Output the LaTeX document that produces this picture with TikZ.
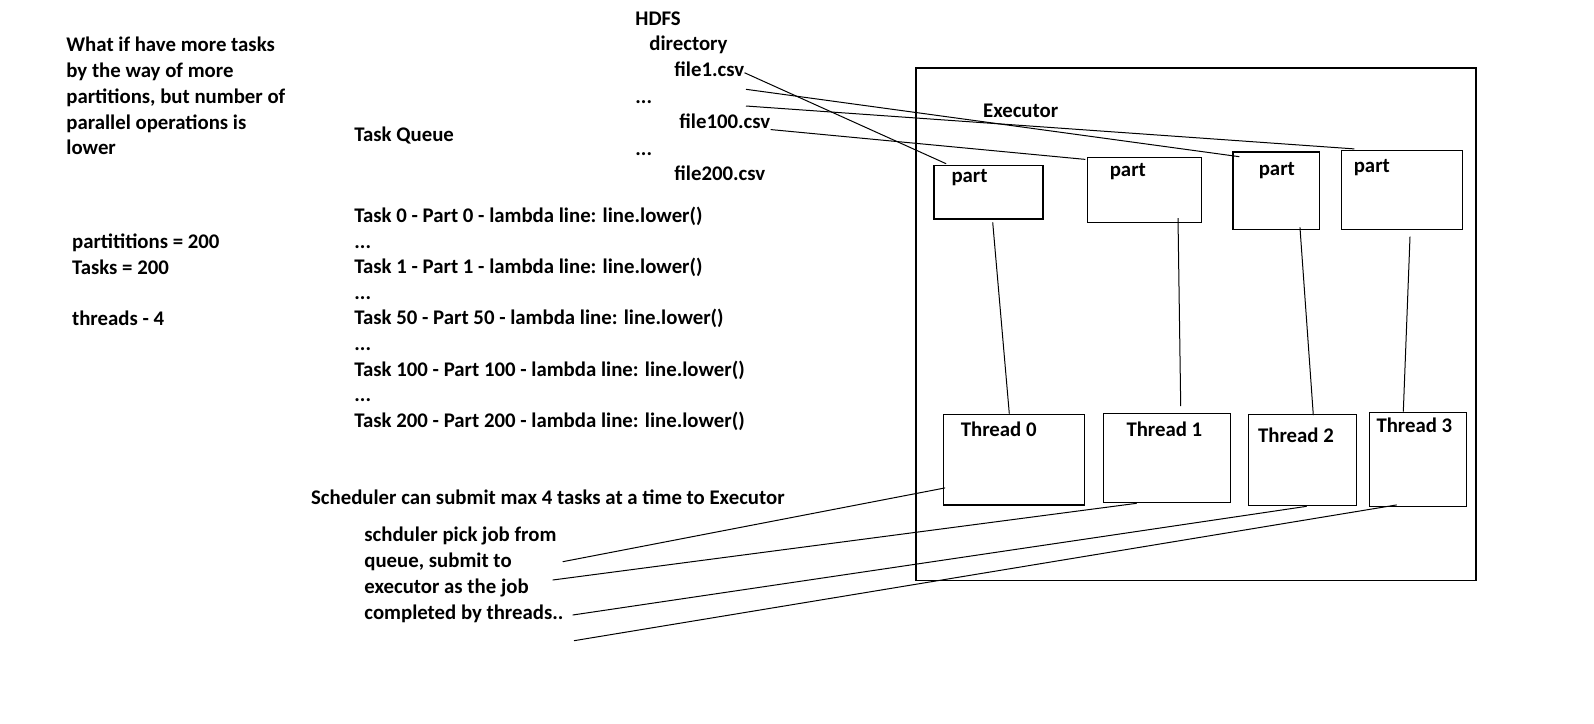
\documentclass[tikz,border=0pt]{standalone}
\usepackage{fontspec}
\setmainfont{Carlito}
\usetikzlibrary{fit,positioning}

\begin{document}
\begin{tikzpicture}[
    x=0.5pt,y=-0.5pt,
    box/.style={draw,line width=0.6pt,inner sep=0pt},
    txt/.style={font=\fontsize{10.4}{12.9}\selectfont\bfseries,inner sep=0pt,anchor=base west},
    para/.style={txt,align=left,anchor=north west},
    wire/.style={line width=0.5pt}]
    \useasboundingbox (0,0) rectangle (1594,723);

    % notes on the left
    \node[para] (note) at (66,36.8) {What if have more tasks\\by the way of more\\partitions, but number of\\parallel operations is\\lower};
    \node[para] (counts) at (71.7,233.4) {partititions = 200\\Tasks = 200\\[12.9pt]threads - 4};

    % task queue
    \node[txt] (queue) at (354,141) {Task Queue};
    \node[para,font=\fontsize{10.4}{12.8}\selectfont\bfseries] (tasks) at (354,206.6) {Task 0 - Part 0 - lambda line: line.lower()\\...\\Task 1 - Part 1 - lambda line: line.lower()\\...\\Task 50 - Part 50 - lambda line: line.lower()\\...\\Task 100 - Part 100 - lambda line: line.lower()\\...\\Task 200 - Part 200 - lambda line: line.lower()};

    % hdfs files
    \node[txt] (hdfs) at (635,25) {HDFS};
    \node[txt] (dir) at (649,50.7) {directory};
    \node[txt] (f1) at (674,76.7) {file1.csv};
    \node[txt] (dots1) at (635,103) {...};
    \node[txt] (f100) at (679,128.3) {file100.csv};
    \node[txt] (dots2) at (635,155) {...};
    \node[txt] (f200) at (674,180) {file200.csv};
    \coordinate (d1) at (746,89.3);
    \coordinate (d2) at (746,106);

    % executor
    \node[box,fit={(916,68) (1476,580.5)}] (exec) {};
    \node[txt] (execlbl) at (982.7,117.7) {Executor};

    \node[box,fit={(934,165.7) (1043,219)}] (p0) {};
    \node[box,fit={(1087.3,157.3) (1201.5,222.6)}] (p1) {};
    \node[box,fit={(1233,152) (1319.3,229.7)}] (p2) {};
    \node[box,fit={(1341.3,150.3) (1462.3,229.7)}] (p3) {};
    \node[txt] (p0lbl) at ([shift={(17.7,17)}]p0.north west) {part};
    \node[txt] (p1lbl) at ([shift={(22.7,19.4)}]p1.north west) {part};
    \node[txt] (p2lbl) at ([shift={(26,24)}]p2.north west) {part};
    \node[txt] (p3lbl) at ([shift={(12.7,22.4)}]p3.north west) {part};

    \node[box,fit={(943.3,414.3) (1084.3,505)}] (t0) {};
    \node[box,fit={(1103.3,413.3) (1230.7,502.3)}] (t1) {};
    \node[box,fit={(1248.3,414.3) (1356.7,505.3)}] (t2) {};
    \node[box,fit={(1369.3,412.3) (1466.7,506.3)}] (t3) {};
    \node[txt] (t0lbl) at ([shift={(17.7,22.4)}]t0.north west) {Thread 0};
    \node[txt] (t1lbl) at ([shift={(23.4,23.4)}]t1.north west) {Thread 1};
    \node[txt] (t2lbl) at ([shift={(10,28.4)}]t2.north west) {Thread 2};
    \node[txt] (t3lbl) at ([shift={(7.4,21)}]t3.north west) {Thread 3};

    % scheduler
    \node[txt] (sched) at (310.7,504) {Scheduler can submit max 4 tasks at a time to Executor};
    \node[para] (pick) at (364,526.8) {schduler pick job from\\queue, submit to\\executor as the job\\completed by threads..};
    \coordinate (s0) at (562.7,561.7);
    \coordinate (s1) at (552.7,580);
    \coordinate (s2) at (572.7,615);
    \coordinate (s3) at (574,640.7);

    \draw[wire] ([shift={(0,3.3)}]f1.east) -- ([shift={(12.7,-1.4)}]p0.north west);
    \draw[wire] (d1) -- ([shift={(7,5.3)}]p2.north west);
    \draw[wire] (d2) -- ([shift={(13.7,-0.8)}]p3.north west);
    \draw[wire] ([shift={(0,8.5)}]f100.east) -- ([shift={(-1.3,2.7)}]p1.north west);

    \draw[wire] ([shift={(4.2,2.7)}]p0.south) -- ([shift={(-4.5,0)}]t0.north);
    \draw[wire] ([shift={(33.6,-5.1)}]p1.south) -- ([shift={(13.7,-6.6)}]t1.north);
    \draw[wire] ([shift={(23.8,-3)}]p2.south) -- ([shift={(10.8,1.4)}]t2.north);
    \draw[wire] ([shift={(8.2,6.3)}]p3.south) -- ([shift={(-14.7,0)}]t3.north);

    \draw[wire] (s0) -- ([shift={(2.4,-17.7)}]t0.south west);
    \draw[wire] (s1) -- ([shift={(-30.3,0.4)}]t1.south);
    \draw[wire] (s2) -- ([shift={(4.2,0.4)}]t2.south);
    \draw[wire] (s3) -- ([shift={(-21.3,-2)}]t3.south);
\end{tikzpicture}
\end{document}
